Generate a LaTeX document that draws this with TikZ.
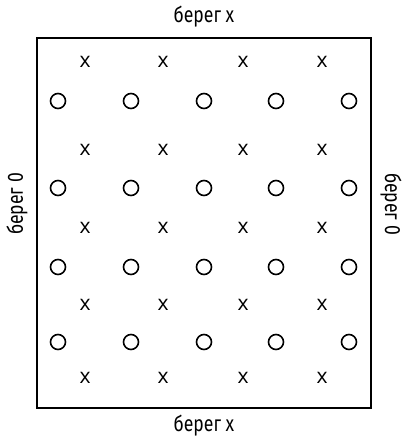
\documentclass[tikz,border=0pt]{standalone}
\usepackage{fontspec}
\setmainfont{Fira Sans}
\newfontfamily\shorefont[FakeStretch=0.8]{Fira Sans}
\newfontfamily\markfont{Open Sans}

\begin{document}
\begin{tikzpicture}[x=1pt, y=-1pt]
  \tikzset{
    shore/.style={font=\shorefont\fontsize{22}{24}\selectfont, inner sep=0pt},
    crossmark/.style={font=\markfont\fontsize{21}{22}\selectfont, inner sep=0pt},
    ringmark/.style={circle, draw, line width=1.6pt, minimum size=15pt, inner sep=0pt}
  }
  \useasboundingbox (0,0) rectangle (412,443);

  \draw[line width=1.8pt] (37,38) rectangle (371,408);

  \node[shore] (top) at (204,17) {берег x};
  \node[shore] (bottom) at (204,426) {берег x};
  \node[shore, rotate=90] (left) at (17,204) {берег 0};
  \node[shore, rotate=-90] (right) at (391,204) {берег 0};

  \foreach \y [count=\j] in {62,150,228,305,378}
    \foreach \x [count=\i] in {85,163,243,322}
      \node[crossmark] (x-\j-\i) at (\x,\y) {x};

  \foreach \y [count=\j] in {101,188,267,342}
    \foreach \x [count=\i] in {58,131,204,276,349}
      \node[ringmark] (o-\j-\i) at (\x,\y) {};
\end{tikzpicture}
\end{document}
